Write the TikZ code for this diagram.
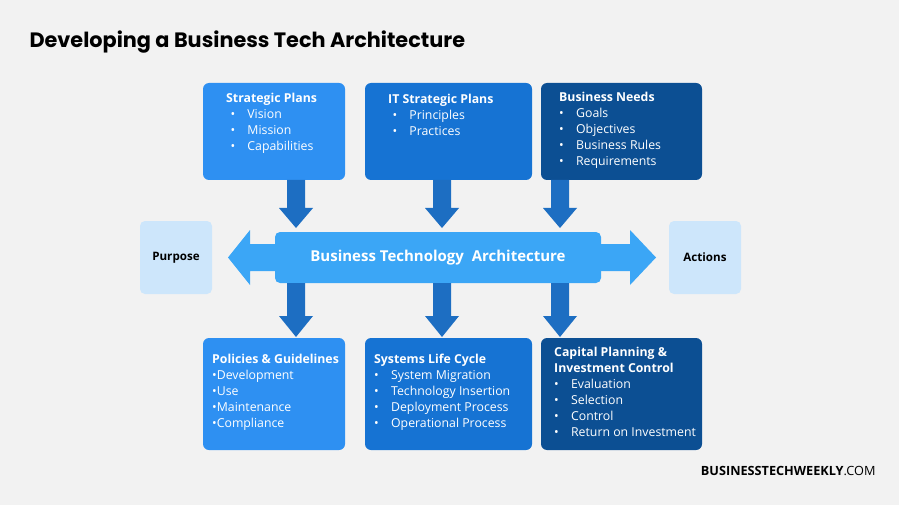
\documentclass[tikz,border=0pt]{standalone}
\usepackage{fontspec}
\setmainfont{Open Sans}
\newfontfamily\titlefont{Poppins}
\definecolor{bg}{HTML}{F2F2F2}
\definecolor{lb}{HTML}{2E90F2}
\definecolor{mb}{HTML}{1673D3}
\definecolor{db}{HTML}{0C4F93}
\definecolor{bar}{HTML}{3BA6F6}
\definecolor{pale}{HTML}{CDE6FB}
\definecolor{arr}{HTML}{1D6EC2}
\begin{document}
\begin{tikzpicture}[x=1pt,y=-1pt,
  box/.style={text=white,font=\fontsize{12.3}{16}\selectfont,align=left,anchor=north west,inner sep=0pt},
  side/.style={fill=pale,rounded corners=5pt,font=\bfseries\fontsize{11.6}{13}\selectfont,text=black}]
\fill[bg] (0,0) rectangle (899,505);
\useasboundingbox (0,0) rectangle (899,505);
\node[anchor=west,font=\titlefont\bfseries\fontsize{20.8}{23}\selectfont] (title) at (26,42) {Developing a Business Tech Architecture};
% boxes
\fill[lb,rounded corners=6pt] (203,83) rectangle (345,180);
\fill[mb,rounded corners=6pt] (365,83) rectangle (532,180);
\fill[db,rounded corners=6pt] (541,83) rectangle (702,180);
\fill[lb,rounded corners=6pt] (203,338) rectangle (345,450);
\fill[mb,rounded corners=6pt] (365,338) rectangle (532,450);
\fill[db,rounded corners=6pt] (541,338) rectangle (702,450);
\node[box] (sp) at (226,93) {\textbf{Strategic Plans}\\
\hspace*{-8pt}\quad\textbullet\quad Vision\\ \hspace*{-8pt}\quad\textbullet\quad Mission\\ \hspace*{-8pt}\quad\textbullet\quad Capabilities};
\node[box] (it) at (388,94) {\textbf{IT Strategic Plans}\\
\hspace*{-8pt}\quad\textbullet\quad Principles\\ \hspace*{-8pt}\quad\textbullet\quad Practices};
\node[box] (bn) at (559,92) {\textbf{Business Needs}\\
\textbullet\quad Goals\\ \textbullet\quad Objectives\\ \textbullet\quad Business Rules\\ \textbullet\quad Requirements};
\node[box] (pg) at (212,354) {\textbf{Policies \& Guidelines}\\
\textbullet Development\\ \textbullet Use\\ \textbullet Maintenance\\ \textbullet Compliance};
\node[box] (sl) at (374,354) {\textbf{Systems Life Cycle}\\
\textbullet\quad System Migration\\ \textbullet\quad Technology Insertion\\ \textbullet\quad Deployment Process\\ \textbullet\quad Operational Process};
\node[box] (cp) at (554,347) {\textbf{Capital Planning \&}\\ \textbf{Investment Control}\\
\textbullet\quad Evaluation\\ \textbullet\quad Selection\\ \textbullet\quad Control\\ \textbullet\quad Return on Investment};
% side arrows
\fill[bar] (228,257.5) -- (250,230) -- (250,244) -- (280,244) -- (280,271) -- (250,271) -- (250,285) -- cycle;
\fill[bar] (656,257.5) -- (630,230) -- (630,244) -- (596,244) -- (596,271) -- (630,271) -- (630,285) -- cycle;
\node[fill=bar,rounded corners=5pt,minimum width=326pt,minimum height=51pt,text=white,font=\bfseries\fontsize{15}{17}\selectfont] (bta) at (438,257.5) {Business Technology\ \ Architecture};
\node[side,minimum width=72pt,minimum height=73pt] (pu) at (176,257.5) {Purpose};
\node[side,minimum width=72pt,minimum height=73pt] (ac) at (705,257.5) {Actions};
% down arrows
\foreach \x in {296,442,560}{
  \fill[arr] (\x-9,180) -- (\x+9,180) -- (\x+9,208) -- (\x+17,208) -- (\x,228) -- (\x-17,208) -- (\x-9,208) -- cycle;
  \fill[arr] (\x-9,283) -- (\x+9,283) -- (\x+9,316) -- (\x+17,316) -- (\x,337) -- (\x-17,316) -- (\x-9,316) -- cycle;
}
\node[anchor=east,font=\fontsize{12.7}{14}\selectfont] (brand) at (879,471) {\textbf{BUSINESSTECHWEEKLY}.COM};
\end{tikzpicture}
\end{document}
